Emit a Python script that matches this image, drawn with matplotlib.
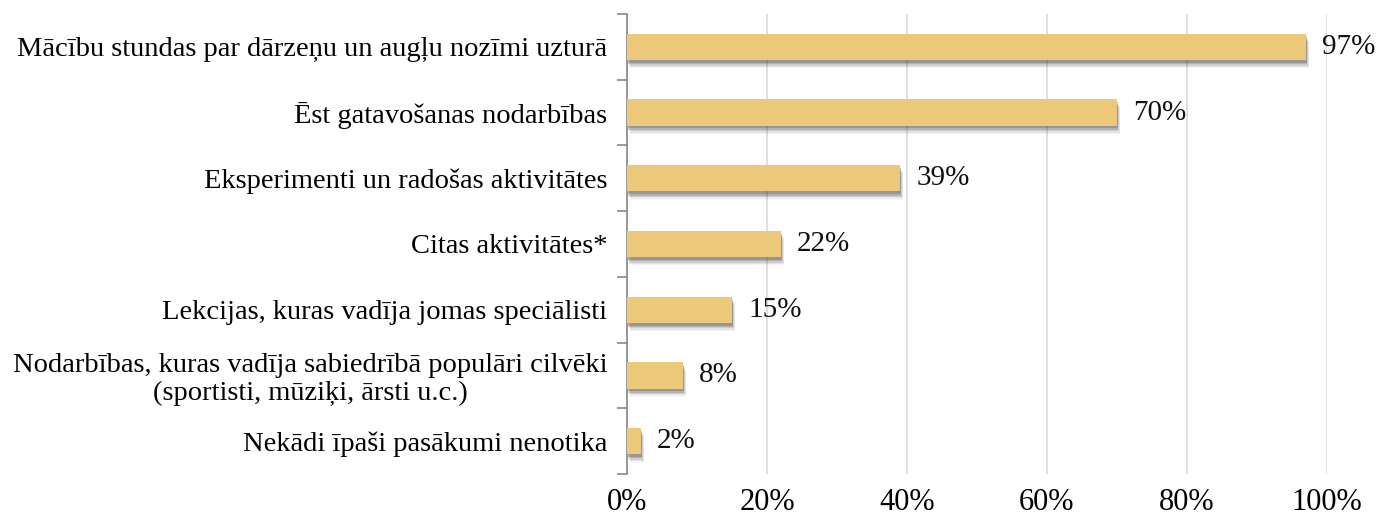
import matplotlib
matplotlib.use('Agg')
import matplotlib.pyplot as plt
import matplotlib.patheffects as pe
from matplotlib.ticker import FuncFormatter

plt.rcParams['font.family'] = ['Liberation Serif', 'DejaVu Serif']

# dati
categories = [
    'Mācību stundas par dārzeņu un augļu nozīmi uzturā',
    'Ēst gatavošanas nodarbības',
    'Eksperimenti un radošas aktivitātes',
    'Citas aktivitātes*',
    'Lekcijas, kuras vadīja jomas speciālisti',
    'Nodarbības, kuras vadīja sabiedrībā populāri cilvēki\n(sportisti, mūziķi, ārsti u.c.)',
    'Nekādi īpaši pasākumi nenotika',
]
values = [97, 70, 39, 22, 15, 8, 2]
x_ticks = [0, 20, 40, 60, 80, 100]

fig = plt.figure(figsize=(13.8, 5.18), dpi=100)
ax = fig.add_axes([0.4543, 0.085, 0.5073, 0.888])

# mīksta ēna zem stabiņiem
shadow = [pe.SimplePatchShadow(offset=(ox, -oy), shadow_rgbFace='#333333', alpha=a)
          for ox, oy, a in [(2, 6, 0.05), (2, 5, 0.08), (1.5, 4, 0.12), (1, 3, 0.18), (1, 2, 0.22)]]

pos = list(range(len(categories)))
ax.barh(pos, values, height=0.4, color='#ECC97A', zorder=3,
        path_effects=shadow + [pe.Normal()])

for p, v in zip(pos, values):
    ax.text(v + 2.3, p, f'{v}%', va='center', ha='left', fontsize=21, color='#111111')

ax.set_ylim(len(categories) - 0.5, -0.5)
ax.set_yticks(pos)
ax.set_yticklabels(categories, fontsize=20.5, multialignment='center', linespacing=1.15)
ax.set_yticks([i - 0.5 for i in range(len(categories) + 1)], minor=True)
ax.tick_params(axis='y', which='major', length=0, pad=14)
ax.tick_params(axis='y', which='minor', length=7, color='#888888', width=1.2)

ax.set_xlim(0, 100)
ax.set_xticks(x_ticks)
ax.xaxis.set_major_formatter(FuncFormatter(lambda v, _: f'{int(v)}%'))
ax.tick_params(axis='x', length=0, pad=10, labelsize=22)

ax.grid(axis='x', color='#D9D9D9', linewidth=1.2, zorder=0)
for s in ['top', 'right', 'bottom']:
    ax.spines[s].set_visible(False)
ax.spines['left'].set_color('#888888')
ax.spines['left'].set_linewidth(1.2)

fig.savefig('out.png', dpi=100)
